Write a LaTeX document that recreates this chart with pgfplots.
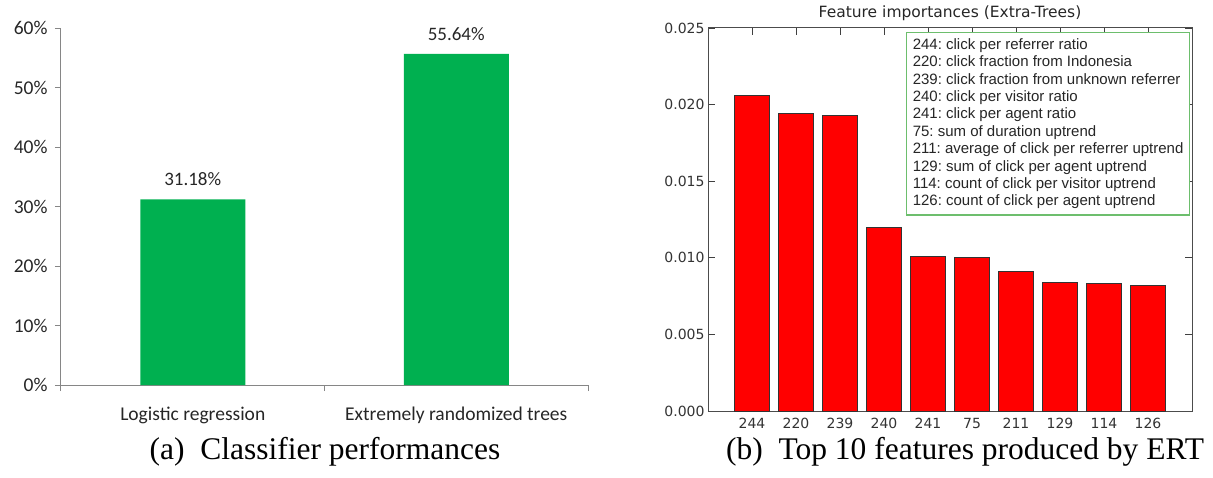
\documentclass[border=0pt]{standalone}
\usepackage{fontspec}
\setmainfont{Liberation Serif}
\newfontfamily\carlito{Carlito}
\newfontfamily\dejavu{DejaVu Sans}
\newfontfamily\arial{Liberation Sans}
\usepackage{pgfplots}
\pgfplotsset{compat=1.18}
\definecolor{xlgreen}{HTML}{00B050}
\definecolor{axgray}{HTML}{868686}
\definecolor{boxgreen}{HTML}{6DBE6D}
\frenchspacing
\begin{document}
\begin{tikzpicture}
\path[use as bounding box] (0pt,0pt) rectangle (1213pt,477pt);
% (a)
\begin{axis}[
  at={(61pt,92pt)}, anchor=south west, scale only axis, width=527pt, height=357pt,
  xmin=0, xmax=2, ymin=0, ymax=60,
  axis x line=bottom, axis y line=left,
  axis line style={-, axgray, line width=1pt},
  xtick={0,1,2}, xticklabels={},
  extra x ticks={0.5,1.5},
  extra x tick labels={Logistic regression, Extremely randomized trees},
  extra x tick style={major tick length=0pt, xticklabel style={yshift=-18pt}},
  ytick={0,10,20,30,40,50,60},
  yticklabels={0\%,10\%,20\%,30\%,40\%,50\%,60\%},
  yticklabel style={xshift=-4pt},
  tick align=outside, major tick length=6pt,
  every tick/.style={axgray, line width=1pt},
  ticklabel style={font=\carlito\fontsize{19.5}{22}\selectfont, text=black!85},
  clip=false,
]
\addplot[ybar, bar width=105pt, fill=xlgreen, draw=none,
  point meta=explicit symbolic,
  nodes near coords,
  nodes near coords style={font=\carlito\fontsize{19}{22}\selectfont, text=black!85, yshift=10pt}]
  coordinates {(0.5,31.18) [31.18\%] (1.5,55.64) [55.64\%]};
\end{axis}
\node[font=\fontsize{31.5}{36}\selectfont] at (325pt,25pt) {(a)\enspace Classifier performances};
% (b)
\begin{axis}[
  at={(708pt,66pt)}, anchor=south west, scale only axis, width=484pt, height=383pt,
  xmin=-1, xmax=10, ymin=0, ymax=0.025,
  xtick={0,1,2,3,4,5,6,7,8,9},
  xticklabels={244,220,239,240,241,75,211,129,114,126},
  xticklabel style={yshift=-4pt},
  ytick={0,0.005,0.01,0.015,0.02,0.025},
  yticklabels={0.000,0.005,0.010,0.015,0.020,0.025},
  scaled y ticks=false,
  tick align=inside, tick pos=both, major tick length=7pt,
  every tick/.style={black!75, line width=0.8pt},
  axis line style={black!70, line width=1pt},
  ticklabel style={font=\dejavu\fontsize{14}{16}\selectfont, text=black!80},
  title={Feature importances (Extra-Trees)},
  title style={font=\dejavu\fontsize{15.5}{18}\selectfont, text=black!85, at={(0.5,1)}, anchor=south, yshift=-2pt},
]
\addplot[ybar, bar width=35pt, fill=red, draw=black!80, line width=0.8pt]
  coordinates {(0,0.0206) (1,0.0194) (2,0.0193) (3,0.0120) (4,0.0101) (5,0.0100) (6,0.0091) (7,0.0084) (8,0.0083) (9,0.0082)};
\node[anchor=north east, draw=boxgreen, line width=1.2pt, fill=white, align=left,
  font=\arial\fontsize{15}{17.4}\selectfont, text=black!85, inner sep=6pt]
  at (rel axis cs:0.996,0.99) {244: click per referrer ratio\\
220: click fraction from Indonesia\\
239: click fraction from unknown referrer\\
240: click per visitor ratio\\
241: click per agent ratio\\
75: sum of duration uptrend\\
211: average of click per referrer uptrend\\
129: sum of click per agent uptrend\\
114: count of click per visitor uptrend\\
126: count of click per agent uptrend};
\end{axis}
\node[font=\fontsize{31.5}{36}\selectfont] at (965pt,25pt) {(b)\enspace Top 10 features produced by ERT};
\end{tikzpicture}
\end{document}
